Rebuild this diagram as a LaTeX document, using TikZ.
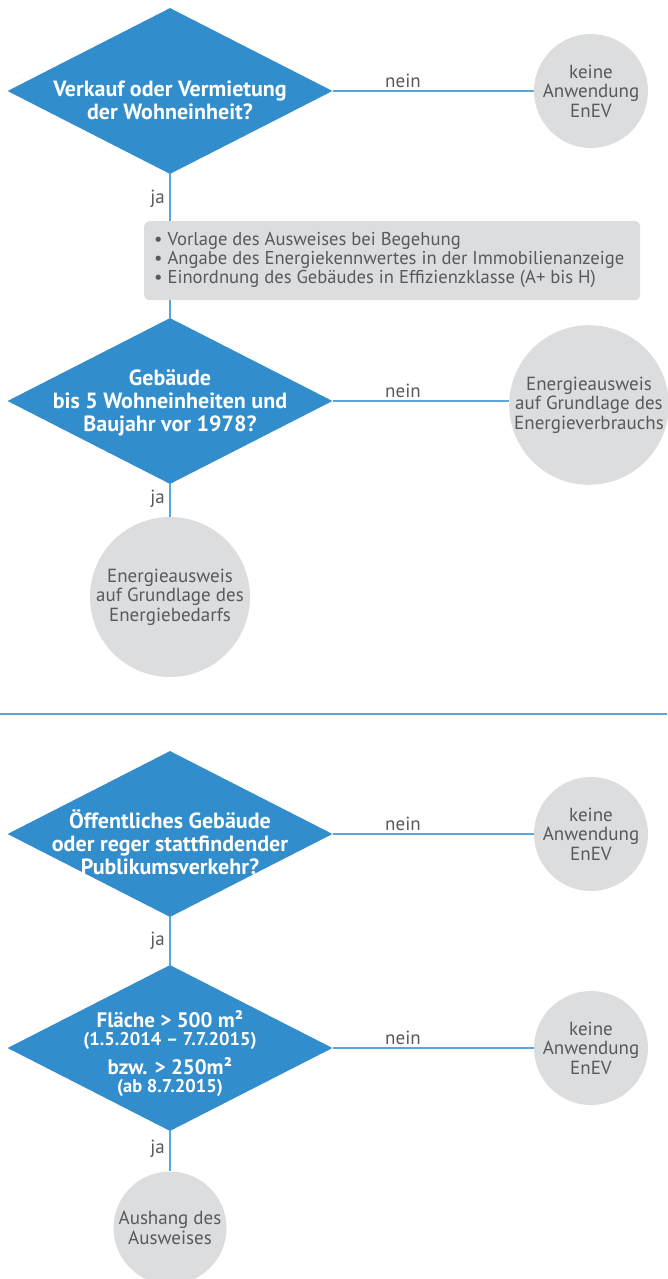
\documentclass[tikz,border=0pt]{standalone}
\usepackage{fontspec}
\setmainfont{PT Sans}
\usetikzlibrary{shapes.geometric}
\definecolor{dblue}{HTML}{318DCB}
\definecolor{cgray}{HTML}{DCDDDE}
\definecolor{tgray}{HTML}{58595B}
\definecolor{lblue}{HTML}{5AA5DC}
\begin{document}
\begin{tikzpicture}[x=1pt,y=-1pt,
  dia/.style={diamond, fill=dblue, draw=none, minimum width=325pt, minimum height=166pt, inner sep=0pt},
  dtext/.style={text=white, font=\bfseries\fontsize{22}{23}\selectfont, align=center, inner sep=0pt},
  dmid/.style={text=white, font=\bfseries\fontsize{21}{23}\selectfont, align=center, inner sep=0pt},
  circ/.style={circle, fill=cgray, draw=none, inner sep=0pt, text=tgray, font=\fontsize{19}{19.5}\selectfont, align=center},
  conn/.style={draw=lblue, line width=1.2pt},
  lbl/.style={text=tgray, font=\fontsize{19}{19.5}\selectfont, inner sep=0pt},
  infobox/.style={fill=cgray, draw=none, rounded corners=5pt, minimum width=496pt, minimum height=79pt, inner sep=0pt},
]
\newcommand{\smalldate}{\fontsize{18.5}{19}\selectfont}
\useasboundingbox (0,0) rectangle (667,1279);

% ---------- upper part ----------
\node[dia] (d1) at (170,91) {};
\node[dtext] (t1) at (170,100) {Verkauf oder Vermietung\\der Wohneinheit?};
\node[circ, minimum size=114pt] (c1) at (591,91) {keine\\Anwendung\\EnEV};
\draw[conn] (d1.east) -- (c1.west);
\node[lbl, anchor=south] (n1) at (403,88) {nein};

\node[infobox, anchor=north west] (box) at (144,221) {};
\node[lbl, anchor=west, align=left, font=\fontsize{18.6}{18.6}\selectfont] (boxt) at (154,260)
  {• Vorlage des Ausweises bei Begehung\\• Angabe des Energiekennwertes in der Immobilienanzeige\\• Einordnung des Gebäudes in Effizienzklasse (A+ bis H)};
\draw[conn] (d1.south) -- (d1.south |- box.north);
\node[lbl, anchor=east] (j1) at (165,199) {ja};

\node[dia] (d2) at (170,401) {};
\node[dtext] (t2) at (170,403) {Gebäude\\bis 5 Wohneinheiten und\\Baujahr vor 1978?};
\draw[conn] (d2.north |- box.south) -- (d2.north);
\node[circ, minimum size=152pt] (c2) at (589,405) {Energieausweis\\auf Grundlage des\\Energieverbrauchs};
\draw[conn] (d2.east) -- (d2.east -| c2.west);
\node[lbl, anchor=south] (n2) at (403,398) {nein};

\node[circ, minimum size=160pt] (c3) at (170,597) {Energieausweis\\auf Grundlage des\\Energiebedarfs};
\draw[conn] (d2.south) -- (c3.north);
\node[lbl, anchor=east] (j2) at (165,499) {ja};

% ---------- separator ----------
\coordinate (sl) at (0,714);
\coordinate (sr) at (667,714);
\draw[draw=lblue, line width=1.6pt] (sl) -- (sr);

% ---------- lower part ----------
\node[dia] (d3) at (170,834) {};
\node[dtext] (t3) at (170,842) {Öffentliches Gebäude\\oder reger stattfindender\\Publikumsverkehr?};
\node[circ, minimum size=114pt] (c4) at (591,834) {keine\\Anwendung\\EnEV};
\draw[conn] (d3.east) -- (c4.west);
\node[lbl, anchor=south] (n3) at (403,831) {nein};

\node[dia] (d4) at (170,1048) {};
\node[dmid] (t4) at (170,1054) {Fläche > 500 m²\\[-5pt]{\smalldate (1.5.2014 – 7.7.2015)}\\[6pt]bzw. > 250m²\\[-5pt]{\smalldate (ab 8.7.2015)}};
\draw[conn] (d3.south) -- (d4.north);
\node[lbl, anchor=east] (j3) at (165,941) {ja};
\node[circ, minimum size=114pt] (c5) at (591,1048) {keine\\Anwendung\\EnEV};
\draw[conn] (d4.east) -- (c5.west);
\node[lbl, anchor=south] (n4) at (403,1045) {nein};

\node[circ, minimum size=113pt] (c6) at (170,1228) {Aushang des\\Ausweises};
\draw[conn] (d4.south) -- (c6.north);
\node[lbl, anchor=east] (j4) at (165,1149) {ja};
\end{tikzpicture}
\end{document}
